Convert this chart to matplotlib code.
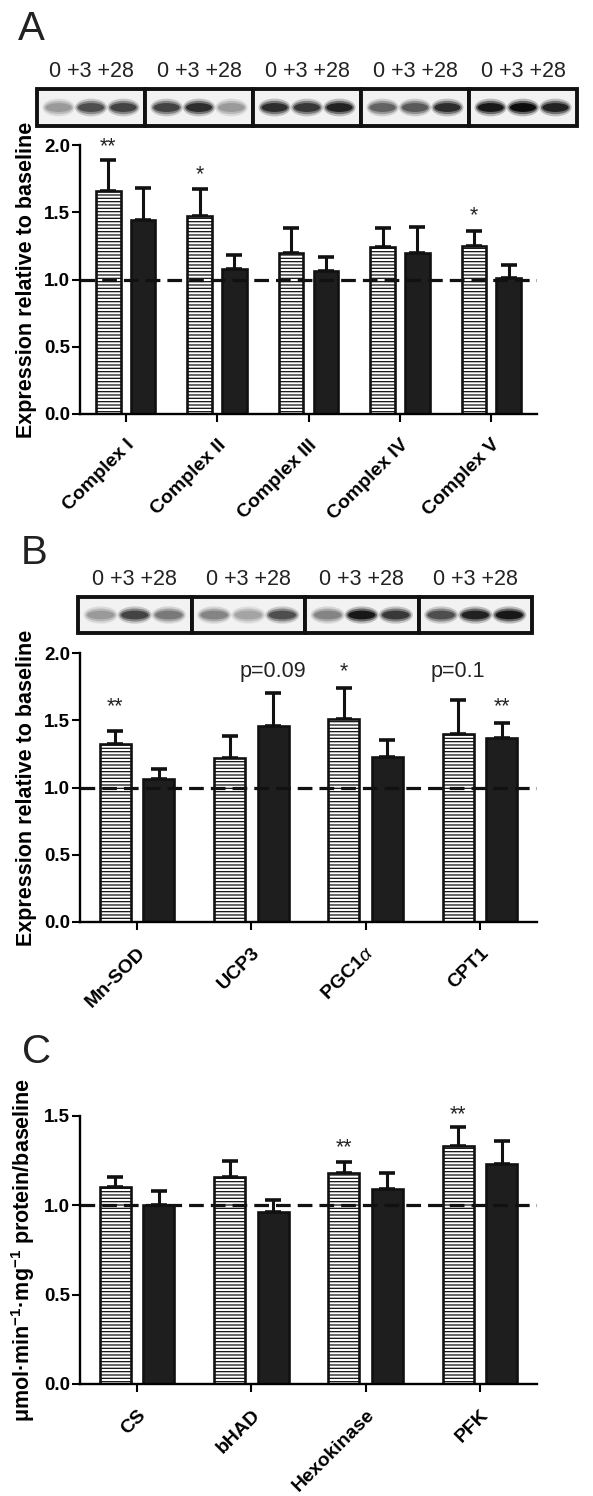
import matplotlib
matplotlib.use('Agg')
import matplotlib.pyplot as plt
import matplotlib.patches as mpatches
import numpy as np

# panel A - mitochondrial complexes (relative to baseline)
complexes = ['Complex I', 'Complex II', 'Complex III', 'Complex IV', 'Complex V']
a_day3 = [1.66, 1.47, 1.20, 1.24, 1.25]
a_day3_err = [0.23, 0.20, 0.18, 0.14, 0.11]
a_day28 = [1.44, 1.08, 1.06, 1.20, 1.01]
a_day28_err = [0.24, 0.10, 0.11, 0.19, 0.10]

# panel B - other proteins
proteins = ['Mn-SOD', 'UCP3', r'PGC1$\alpha$', 'CPT1']
b_day3 = [1.32, 1.22, 1.51, 1.40]
b_day3_err = [0.10, 0.16, 0.23, 0.25]
b_day28 = [1.06, 1.46, 1.23, 1.37]
b_day28_err = [0.08, 0.24, 0.12, 0.11]

# panel C - enzyme activities
enzymes = ['CS', 'bHAD', 'Hexokinase', 'PFK']
c_day3 = [1.10, 1.16, 1.18, 1.33]
c_day3_err = [0.06, 0.09, 0.06, 0.11]
c_day28 = [1.00, 0.96, 1.09, 1.23]
c_day28_err = [0.08, 0.07, 0.09, 0.13]

# significance marks: (category index, 0=day3 / 1=day28, y, text)
a_marks = [(0, 0, 2.04, '**'), (1, 0, 1.83, '*'), (4, 0, 1.53, '*')]
b_marks = [(0, 0, 1.65, '**'), (1, 1, 1.875, 'p=0.09'), (2, 0, 1.91, '*'),
           (3, 0, 1.875, 'p=0.1'), (3, 1, 1.65, '**')]
c_marks = [(2, 0, 1.36, '**'), (3, 0, 1.545, '**')]

lane_labels = '0 +3 +28'
# western blot band darkness for lanes 0, +3, +28
a_bands = [[0.35, 0.70, 0.75], [0.75, 0.85, 0.35], [0.85, 0.80, 0.90],
           [0.60, 0.65, 0.85], [0.95, 1.00, 0.90]]
b_bands = [[0.35, 0.75, 0.50], [0.45, 0.30, 0.70], [0.45, 0.95, 0.80],
           [0.70, 0.90, 0.95]]

plt.rcParams['font.family'] = 'Liberation Sans'
plt.rcParams['mathtext.fontset'] = 'custom'
plt.rcParams['mathtext.rm'] = 'Liberation Sans'
plt.rcParams['mathtext.it'] = 'Liberation Sans:italic'
plt.rcParams['mathtext.bf'] = 'Liberation Sans:bold'
plt.rcParams['hatch.linewidth'] = 0.9

W, H = 593, 1496
fig = plt.figure(figsize=(W / 100, H / 100), dpi=100)


def px_axes(x0, y0, x1, y1):
    return fig.add_axes([x0 / W, 1 - y1 / H, (x1 - x0) / W, (y1 - y0) / H])


def blot_strip(ax, bands, thick=0.24):
    n = len(bands)
    ax.set_xlim(0, n)
    ax.set_ylim(0, 1)
    ax.axis('off')
    for i, lanes in enumerate(bands):
        ax.add_patch(mpatches.Rectangle((i, 0), 1, 1, color='#f2f2f2', lw=0))
        for j, dark in enumerate(lanes):
            cx = i + 0.2 + 0.3 * j
            g = 1 - dark
            # soft band: halo then core
            for k, (sw, sh, a) in enumerate([(0.30, 2.0, 0.25), (0.27, 1.5, 0.5),
                                             (0.24, 1.0, 1.0)]):
                ax.add_patch(mpatches.Ellipse((cx, 0.5), sw, thick * sh,
                                              color=str(g * 0.85 + 0.05), lw=0,
                                              alpha=a))
        ax.add_patch(mpatches.Rectangle((i, 0), 1, 1, fill=False, lw=2.8,
                                        edgecolor='#111111', clip_on=False))
        ax.text(i + 0.5, 1.33, lane_labels, ha='center', va='baseline',
                fontsize=15.5, color='#222222')


def mark(ax, x, y, s):
    off = 9 if '*' in s else 5.5
    ax.annotate(s, (x, y), xytext=(0, -off), textcoords='offset points',
                ha='center', va='baseline', fontsize=15.5, color='#222222',
                annotation_clip=False)


def bar_panel(ax, cats, d3, e3, d28, e28, ymax, ylabel, marks):
    n = len(cats)
    x = np.arange(n)
    off, w = 0.19, 0.27
    ax.bar(x - off, d3, w, color='white', edgecolor='#111111', hatch='-----',
           lw=1.9, zorder=2)
    ax.bar(x + off, d28, w, color='#1e1e1e', edgecolor='#111111', lw=1.9,
           zorder=2)
    ax.errorbar(x - off, d3, yerr=[np.zeros(n), e3], fmt='none', ecolor='#111111',
                elinewidth=2.2, capsize=5.5, capthick=2.6, zorder=1.5)
    ax.errorbar(x + off, d28, yerr=[np.zeros(n), e28], fmt='none', ecolor='#111111',
                elinewidth=2.2, capsize=5.5, capthick=2.6, zorder=1.5)
    ax.axhline(1.0, color='#111111', lw=2.3, dashes=(4.6, 2.2), zorder=3)
    ax.set_xlim(-0.5, n - 0.5)
    ax.set_ylim(0, ymax)
    ax.set_yticks(np.arange(0, ymax + 0.01, 0.5))
    ax.yaxis.set_major_formatter(matplotlib.ticker.FormatStrFormatter('%.1f'))
    for s in ['top', 'right']:
        ax.spines[s].set_visible(False)
    for s in ['left', 'bottom']:
        ax.spines[s].set_linewidth(1.7)
    ax.tick_params(axis='y', length=5.5, width=1.5, labelsize=13.5, pad=1.5)
    ax.tick_params(axis='x', length=6, width=1.5, pad=10)
    ax.set_xticks(x)
    ax.set_xticklabels(cats, rotation=45, ha='right', va='top',
                       rotation_mode='anchor', fontweight='bold', fontsize=14)
    for t in ax.get_yticklabels():
        t.set_fontweight('bold')
    ax.set_ylabel(ylabel, fontsize=15.5, fontweight='bold')
    ax.yaxis.set_label_coords(-0.095, 0.5)
    for i, k, y, s in marks:
        mark(ax, i + (off if k else -off), y, s)


# panel A
fig.text(18 / W, 1 - 40 / H, 'A', fontsize=29, va='baseline', color='#222222')
blot_a = px_axes(37, 89, 577, 126)
blot_strip(blot_a, a_bands)
ax_a = px_axes(80, 145, 537, 414)
bar_panel(ax_a, complexes, a_day3, a_day3_err, a_day28, a_day28_err, 2.0,
          'Expression relative to baseline', a_marks)

# panel B
fig.text(21 / W, 1 - 564 / H, 'B', fontsize=29, va='baseline', color='#222222')
blot_b = px_axes(78, 597, 532, 633)
blot_strip(blot_b, b_bands)
ax_b = px_axes(80, 653, 537, 922)
bar_panel(ax_b, proteins, b_day3, b_day3_err, b_day28, b_day28_err, 2.0,
          'Expression relative to baseline', b_marks)

# panel C
fig.text(22 / W, 1 - 1063 / H, 'C', fontsize=29, va='baseline', color='#222222')
ax_c = px_axes(80, 1116, 537, 1384)
bar_panel(ax_c, enzymes, c_day3, c_day3_err, c_day28, c_day28_err, 1.5,
          r'μmol·min$^{\mathbf{-1}}$·mg$^{\mathbf{-1}}$ protein/baseline', c_marks)

fig.savefig('out.png', dpi=100)
